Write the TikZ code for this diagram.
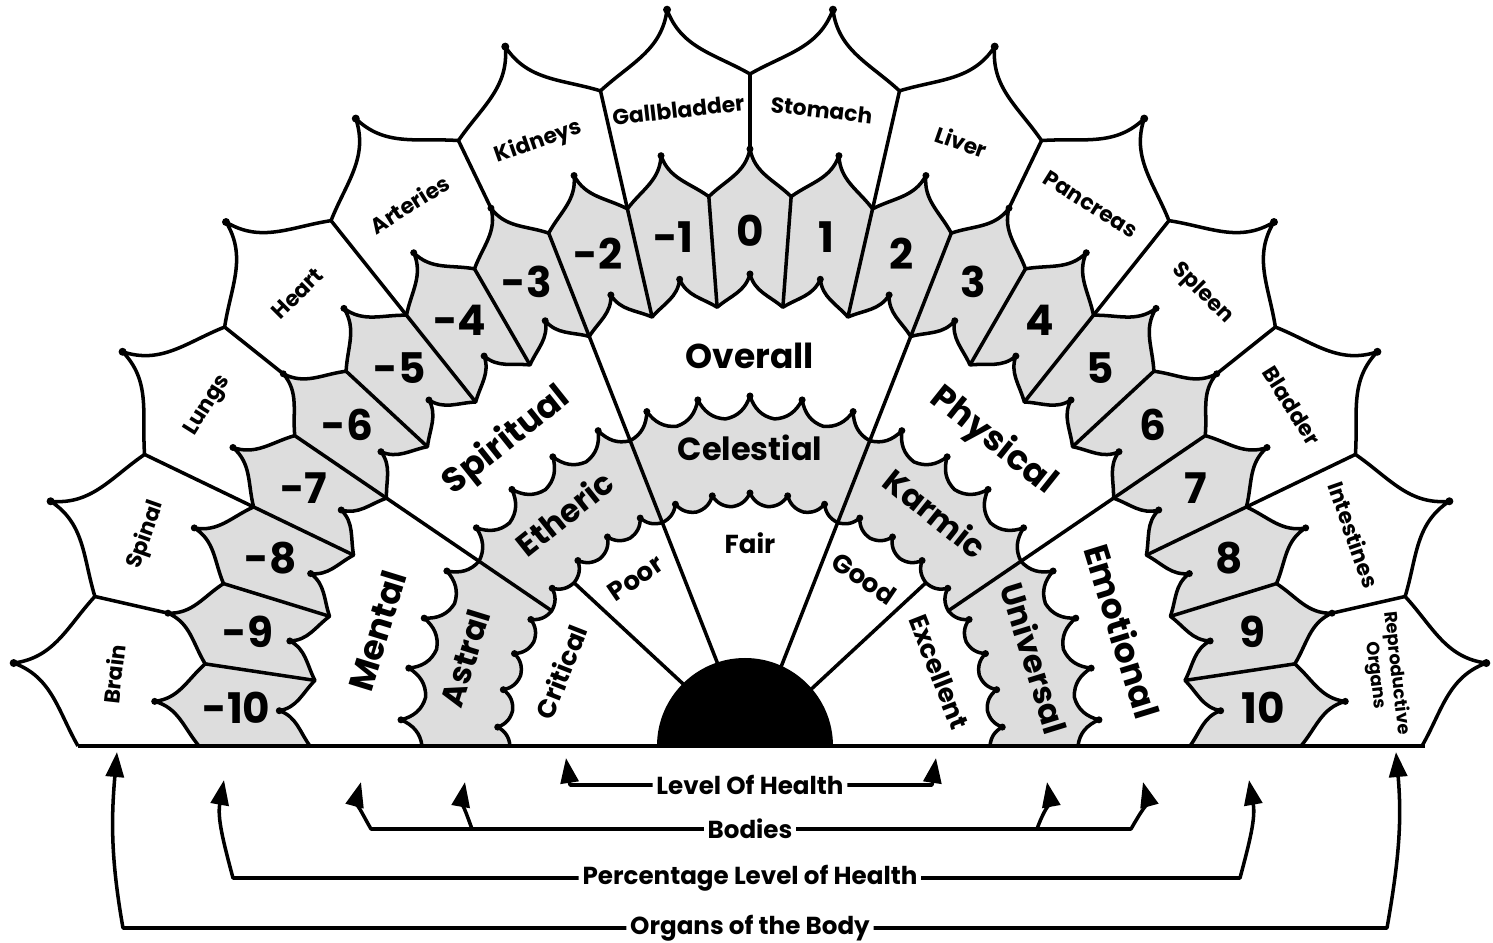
\documentclass[tikz,border=0pt]{standalone}
\usepackage{fontspec}
\setmainfont{Poppins}
\usetikzlibrary{arrows.meta}
\definecolor{ringgray}{RGB}{221,221,221}

% scalloped edge from 0 to 180 degrees: sectors, valley radius, cusp radius, valley bend, cusp bend
\newcommand{\scallop}[5]{(0:#2) \foreach \k in {1,...,#1} {
    to[relative,out=#4,in=180-#5] ({(\k-0.5)*180/#1}:#3)
    to[relative,out=#5,in=180-#4] ({\k*180/#1}:#2)}}

\begin{document}
\begin{tikzpicture}[x=0.1mm, y=0.1mm, line width=1pt, line join=round,
  organ/.style={font=\bfseries\fontsize{6.2}{7}\selectfont, inner sep=0pt},
  small organ/.style={font=\bfseries\fontsize{5.1}{6}\selectfont, align=center, inner sep=0pt},
  number/.style={font=\bfseries\fontsize{12}{14}\selectfont, inner sep=0pt},
  body/.style={font=\bfseries\fontsize{9.8}{11}\selectfont, inner sep=0pt},
  plane/.style={font=\bfseries\fontsize{9.1}{11}\selectfont, inner sep=0pt},
  health/.style={font=\bfseries\fontsize{7.4}{9}\selectfont, inner sep=0pt},
  legend/.style={font=\bfseries\fontsize{7}{8}\selectfont, inner sep=0.6pt},
  pointer/.style={-{Triangle[length=2.5mm,width=1.8mm]}}]
\path[use as bounding box, fill=white] (-750,-197) rectangle (743,746);

% rings
\fill[ringgray] \scallop{21}{551}{597}{5}{30} -- cycle;
\fill[white] \scallop{21}{440}{472}{5}{30} -- cycle;
\fill[ringgray] \scallop{21}{328}{350}{32}{28} -- cycle;
\fill[white] \scallop{21}{240}{253}{28}{28} -- cycle;
\draw \scallop{14}{672}{741}{8}{32};
\draw \scallop{21}{551}{597}{5}{30};
\draw \scallop{21}{440}{472}{5}{30};
\draw \scallop{21}{328}{350}{32}{28};
\draw \scallop{21}{240}{253}{28}{28};

% spokes
\foreach \m in {1,...,20} \draw ({\m*180/21}:440) -- ({\m*180/21}:551);
\foreach \j in {2,4,...,12} \draw ({\j*180/14}:551) -- ({\j*180/14}:672);
\foreach \j in {1,3,...,13} \draw ({\j*180/14}:597) -- ({\j*180/14}:672);
\foreach \m in {4,17} \draw ({\m*180/21}:440) -- ({\m*180/21}:240);
\foreach \m in {8,13} \draw ({\m*180/21}:440) -- ({\m*180/21}:60);
\foreach \m in {5,16} \draw ({\m*180/21}:240) -- ({\m*180/21}:60);
\draw (-672,0) -- (675,0);
\fill (83,0) arc[start angle=0, end angle=180, radius=88] -- cycle;

% tips
\foreach \k in {1,...,14} \fill ({(\k-0.5)*180/14}:741) circle[radius=4];
\foreach \r in {597,472,350,253}
  \foreach \k in {1,...,21} \fill ({(\k-0.5)*180/21}:\r) circle[radius=3.5];

% labels
\foreach \name [count=\i] in {Brain,Spinal,Lungs,Heart,Arteries,Kidneys,Gallbladder,Stomach,Liver,Pancreas,Spleen,Bladder,Intestines}
  \node[organ, rotate={90-(\i-0.5)*180/14}] (organ\i) at ({180-(\i-0.5)*180/14}:640) {\name};
\node[small organ, rotate=-83.57] (organ14) at (6.43:640) {Reproductive\\Organs};
\foreach \n in {-10,...,10}
  \node[number] (num\n) at ({90-\n*180/21}:515) {\n};
\foreach \name/\ang in {Mental/162.86,Spiritual/128.57,Overall/90,Physical/51.43,Emotional/17.14}
  \node[body, rotate=\ang-90] (\name) at (\ang:390) {\name};
\foreach \name/\ang in {Astral/162.86,Etheric/128.57,Celestial/90,Karmic/51.43,Universal/17.14}
  \node[plane, rotate=\ang-90] (\name) at (\ang:298) {\name};
\foreach \name/\ang in {Critical/158.57,Poor/124.29,Fair/90,Good/55.71,Excellent/21.43}
  \node[health, rotate=\ang-90] (\name) at (\ang:203) {\name};

% legend
\node[legend] (lvl) at (0,-39) {Level Of Health};
\node[legend] (bod) at (0,-83) {Bodies};
\node[legend] (pct) at (0,-132) {Percentage Level of Health};
\node[legend] (org) at (0,-182) {Organs of the Body};
\coordinate (lvlL) at (-184,-12);
\coordinate (lvlR) at (186,-12);
\coordinate (bodJL) at (-278,-83);
\coordinate (bodJR) at (287,-83);
\coordinate (bodL1) at (-389,-36);
\coordinate (bodL2) at (-285,-36);
\coordinate (bodR1) at (297,-36);
\coordinate (bodR2) at (393,-36);
\coordinate (pctL) at (-526,-34);
\coordinate (pctR) at (499,-34);
\coordinate (orgL) at (-633,-6);
\coordinate (orgR) at (646,-6);
\draw[pointer] (lvl.west) -- (-180,-39) -- (lvlL);
\draw[pointer] (lvl.east) -- (182,-39) -- (lvlR);
\draw[pointer] (bod.west) -- (-379,-83) to[out=120,in=-105] (bodL1);
\draw[pointer] (bodJL) to[out=110,in=-100] (bodL2);
\draw[pointer] (bod.east) -- (381,-83) to[out=60,in=-75] (bodR2);
\draw[pointer] (bodJR) to[out=70,in=-80] (bodR1);
\draw[pointer] (pct.west) -- (-517,-132) to[out=105,in=-100] (pctL);
\draw[pointer] (pct.east) -- (490,-132) to[out=75,in=-80] (pctR);
\draw[pointer] (org.west) -- (-627,-182) to[out=100,in=-95] (orgL);
\draw[pointer] (org.east) -- (637,-182) to[out=80,in=-85] (orgR);
\end{tikzpicture}
\end{document}
